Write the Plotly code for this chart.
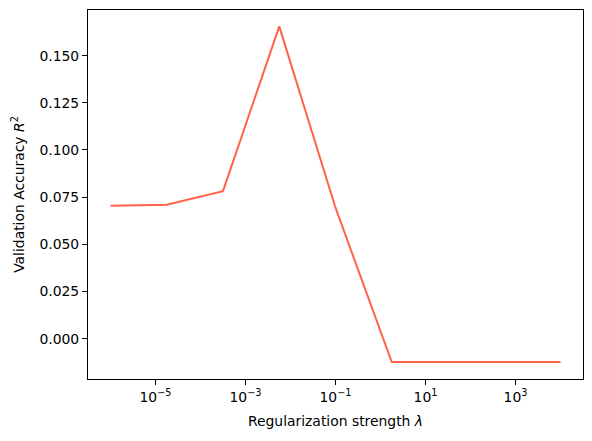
import numpy as np
import plotly.graph_objects as go

# regularization strengths (log spaced) and validation R^2
lambdas = [1e-6, 10**-4.75, 10**-3.5, 10**-2.25, 1e-1, 10**0.25, 10**1.5, 10**2.75, 1e4]
r2_scores = [0.0704, 0.0710, 0.0782, 0.1655, 0.0694, -0.0124, -0.0124, -0.0124, -0.0124]

x_tickvals = [1e-5, 1e-3, 1e-1, 1e1, 1e3]
x_ticktext = ['10<sup>\u22125</sup>', '10<sup>\u22123</sup>', '10<sup>\u22121</sup>',
              '10<sup>1</sup>', '10<sup>3</sup>']
y_tickvals = [0.0, 0.025, 0.05, 0.075, 0.1, 0.125, 0.15]

# matplotlib default 10pt at 100 dpi
fsize = 13.9

fig = go.Figure()
fig.add_trace(go.Scatter(
    x=lambdas,
    y=r2_scores,
    mode='lines',
    line=dict(color='tomato', width=2),
    showlegend=False,
))

fig.update_layout(
    width=592,
    height=441,
    margin=dict(l=88, r=9, t=10, b=62, autoexpand=False),
    plot_bgcolor='white',
    paper_bgcolor='white',
    font=dict(family='DejaVu Sans', size=fsize, color='black'),
)

fig.update_xaxes(
    type='log',
    range=[-6.5, 4.5],
    tickvals=x_tickvals,
    ticktext=x_ticktext,
    tickfont=dict(family='DejaVu Sans', size=fsize, color='black'),
    ticks='outside',
    ticklen=5,
    tickwidth=1,
    tickcolor='black',
    showline=True,
    linecolor='black',
    linewidth=1,
    mirror=True,
    showgrid=False,
    zeroline=False,
    automargin=False,
    title=dict(text='Regularization strength <i>\u03bb</i>', standoff=12,
               font=dict(family='DejaVu Sans', size=fsize)),
)
fig.update_yaxes(
    range=[-0.0214, 0.1742],
    tickvals=y_tickvals,
    tickformat='.3f',
    tickfont=dict(family='DejaVu Sans', size=fsize, color='black'),
    ticks='outside',
    ticklen=5,
    tickwidth=1,
    tickcolor='black',
    showline=True,
    linecolor='black',
    linewidth=1,
    mirror=True,
    showgrid=False,
    zeroline=False,
    automargin=False,
    title=dict(text='Validation Accuracy <i>R</i><sup>2</sup>', standoff=11,
               font=dict(family='DejaVu Sans', size=fsize)),
)

# page body has a default 8px margin; drop it so the figure sits flush
fig.write_html("out.html", config={'displayModeBar': False},
               post_script="document.body.style.margin='0';")
